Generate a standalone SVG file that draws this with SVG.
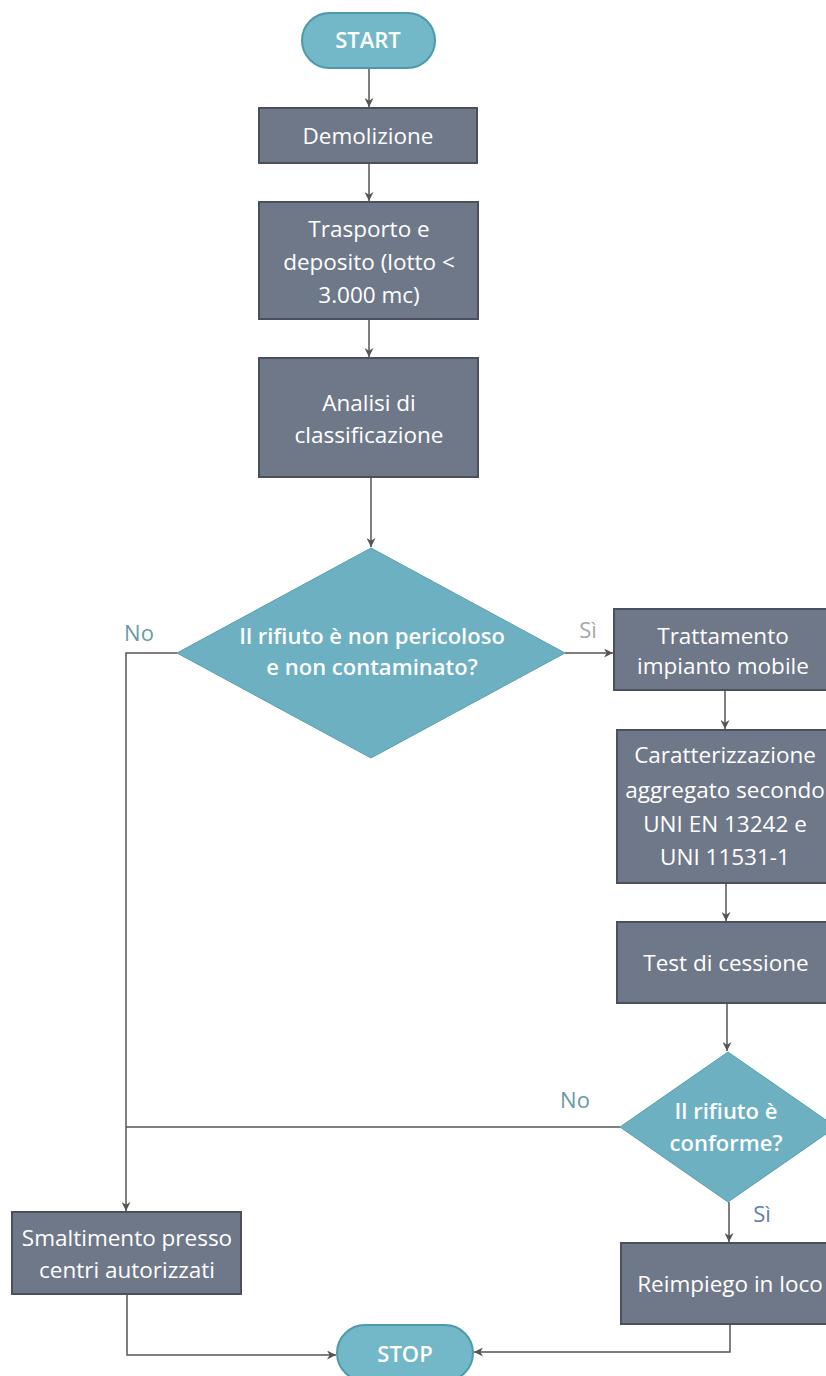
<svg xmlns="http://www.w3.org/2000/svg" width="826" height="1376" viewBox="0 0 826 1376">
<defs>
<marker id="arr" viewBox="0 0 10 10" refX="10" refY="5" markerWidth="9" markerHeight="9" markerUnits="userSpaceOnUse" orient="auto">
<path d="M0,0 L10,5 L0,10 L3,5 Z" fill="#555"/>
</marker>
<style>
.box{fill:#6f7888;stroke:#4b505c;stroke-width:2}
.term{fill:#72b8c8;stroke:#4e9aab;stroke-width:2}
.dec{fill:#6cb0c2;stroke:#5a9fb0;stroke-width:1}
.t{font-family:"Open Sans","Liberation Sans",sans-serif;font-size:22.5px;fill:#fff;text-anchor:middle}
.tb{font-family:"Open Sans","Liberation Sans",sans-serif;font-size:22px;font-weight:600;fill:#fff;text-anchor:middle}
.lbl{font-family:"Open Sans","Liberation Sans",sans-serif;font-size:22px}
.c{fill:none;stroke:#555;stroke-width:1.5}
</style>
</defs>
<rect width="826" height="1376" fill="#fff"/>
<g id="connectors">
<path class="c" d="M369,68 V107" marker-end="url(#arr)"/>
<path class="c" d="M369,163 V201" marker-end="url(#arr)"/>
<path class="c" d="M369,319 V357" marker-end="url(#arr)"/>
<path class="c" d="M371,477 V547" marker-end="url(#arr)"/>
<path class="c" d="M177,653 H126 V1211" marker-end="url(#arr)"/>
<path class="c" d="M565,653 H613" marker-end="url(#arr)"/>
<path class="c" d="M725,690 V729" marker-end="url(#arr)"/>
<path class="c" d="M726,883 V921" marker-end="url(#arr)"/>
<path class="c" d="M727,1003 V1051" marker-end="url(#arr)"/>
<path class="c" d="M620,1127 H126"/>
<path class="c" d="M729,1202 V1242" marker-end="url(#arr)"/>
<path class="c" d="M127,1294 V1355 H336" marker-end="url(#arr)"/>
<path class="c" d="M730,1324 V1352 H474" marker-end="url(#arr)"/>
</g>
<g id="start">
<rect class="term" x="302" y="13" width="133" height="55" rx="27.5"/>
<text class="tb" x="368" y="48">START</text>
</g>
<g id="demolizione">
<rect class="box" x="259" y="108" width="218" height="55"/>
<text class="t" x="368" y="144">Demolizione</text>
</g>
<g id="trasporto">
<rect class="box" x="259" y="202" width="219" height="117"/>
<text class="t" x="369" y="237">Trasporto e</text>
<text class="t" x="369" y="270">deposito (lotto &lt;</text>
<text class="t" x="369" y="303">3.000 mc)</text>
</g>
<g id="analisi">
<rect class="box" x="259" y="358" width="219" height="119"/>
<text class="t" x="369" y="411">Analisi di</text>
<text class="t" x="369" y="443">classificazione</text>
</g>
<g id="decisione1">
<polygon class="dec" points="371,548 565,653 371,758 177,653"/>
<text class="tb" x="372" y="644">Il rifiuto è non pericoloso</text>
<text class="tb" x="372" y="675">e non contaminato?</text>
</g>
<text class="lbl" x="139" y="641" fill="#6a9aa4" text-anchor="middle">No</text>
<text class="lbl" x="588" y="638" fill="#a8a8a8" text-anchor="middle">Sì</text>
<g id="trattamento">
<rect class="box" x="614" y="609" width="222" height="81"/>
<text class="t" x="723" y="644">Trattamento</text>
<text class="t" x="723" y="674">impianto mobile</text>
</g>
<g id="caratterizzazione">
<rect class="box" x="617" y="730" width="219" height="153"/>
<text class="t" x="725" y="763">Caratterizzazione</text>
<text class="t" x="725" y="798">aggregato secondo</text>
<text class="t" x="725" y="832">UNI EN 13242 e</text>
<text class="t" x="725" y="865">UNI 11531-1</text>
</g>
<g id="test">
<rect class="box" x="617" y="922" width="219" height="81"/>
<text class="t" x="726" y="971">Test di cessione</text>
</g>
<g id="decisione2">
<polygon class="dec" points="728,1052 836,1127 728,1202 620,1127"/>
<text class="tb" x="726" y="1119">Il rifiuto è</text>
<text class="tb" x="726" y="1151">conforme?</text>
</g>
<text class="lbl" x="575" y="1108" fill="#6a9aa4" text-anchor="middle">No</text>
<text class="lbl" x="762" y="1222" fill="#5c80b0" text-anchor="middle">Sì</text>
<g id="smaltimento">
<rect class="box" x="12" y="1212" width="229" height="82"/>
<text class="t" x="127" y="1246">Smaltimento presso</text>
<text class="t" x="127" y="1278">centri autorizzati</text>
</g>
<g id="reimpiego">
<rect class="box" x="621" y="1243" width="215" height="81"/>
<text class="t" x="730" y="1292">Reimpiego in loco</text>
</g>
<g id="stop">
<rect class="term" x="337" y="1325" width="136" height="56" rx="28"/>
<text class="tb" x="405" y="1362">STOP</text>
</g>
</svg>
